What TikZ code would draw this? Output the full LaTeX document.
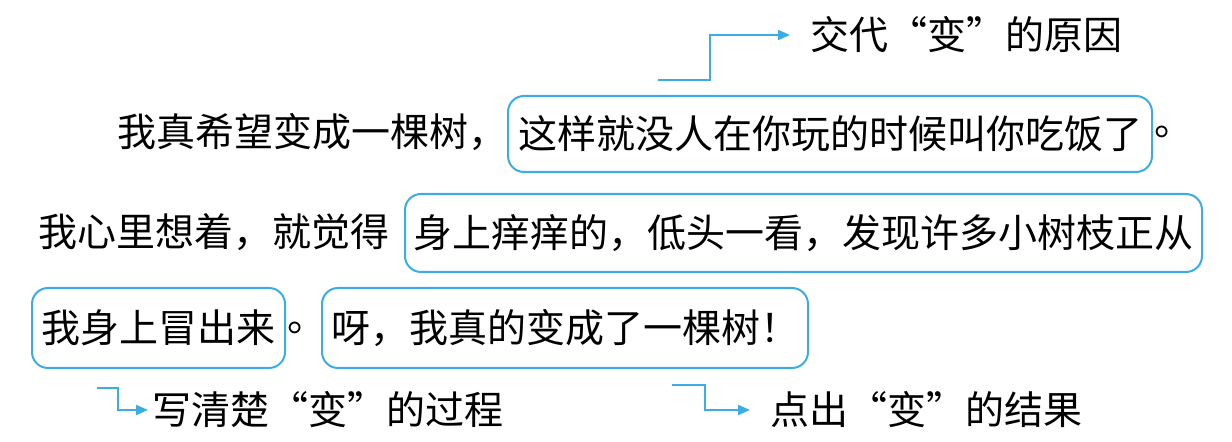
\documentclass[tikz,border=0pt]{standalone}
\usepackage{fontspec}
\newfontfamily\cjk{Noto Sans CJK SC}
\usetikzlibrary{arrows.meta}
\definecolor{hiblue}{RGB}{59,172,228}
\tikzset{
  txt/.style={font=\cjk\fontsize{19.5pt}{19.5pt}\selectfont, inner sep=0pt, anchor=west, text=black},
  hibox/.style={draw=hiblue, line width=1pt, rounded corners=8pt, font=\cjk\fontsize{19.5pt}{19.5pt}\selectfont, inner sep=0pt, text=black},
  lbl/.style={font=\cjk\fontsize{19.5pt}{19.5pt}\selectfont, inner ysep=0pt, inner xsep=10pt, anchor=west, text=black},
  conn/.style={draw=hiblue, line width=1pt, -{Triangle[length=6pt,width=5pt]}}
}
\begin{document}
\begin{tikzpicture}[x=0.5pt,y=-0.5pt]
\useasboundingbox (0,0) rectangle (1232,442);
% line 1
\node[txt] (t1) at (117,132) {我真希望变成一棵树，};
\node[hibox, minimum width=322pt, minimum height=38pt] (b1) at (830,134) {这样就没人在你玩的时候叫你吃饭了};
\node[txt] (p1) at (1154,132) {。};
% line 2
\node[txt] (t2) at (38,232) {我心里想着，就觉得};
\node[hibox, minimum width=398.5pt, minimum height=39pt] (b2) at (803.5,233) {身上痒痒的，低头一看，发现许多小树枝正从};
% line 3
\node[hibox, minimum width=126.5pt, minimum height=40pt] (b3) at (158.5,328) {我身上冒出来};
\node[txt] (p3) at (287,328) {。};
\node[hibox, minimum width=243pt, minimum height=40pt] (b4) at (565,328) {呀，我真的变成了一棵树！};
% labels
\node[lbl] (l1) at (790,35) {交代“变”的原因};
\node[lbl, inner xsep=2pt] (l2) at (148,410) {写清楚“变”的过程};
\node[lbl] (l3) at (750,410) {点出“变”的结果};
% connectors
\coordinate (s1) at (658,80);
\coordinate (s2) at (97,388);
\coordinate (s3) at (672,385);
\draw[conn] (s1) -- (710,80) |- (l1.west);
\draw[conn] (s2) -- (118,388) |- (l2.west);
\draw[conn] (s3) -- (705,385) |- (l3.west);
\end{tikzpicture}
\end{document}
